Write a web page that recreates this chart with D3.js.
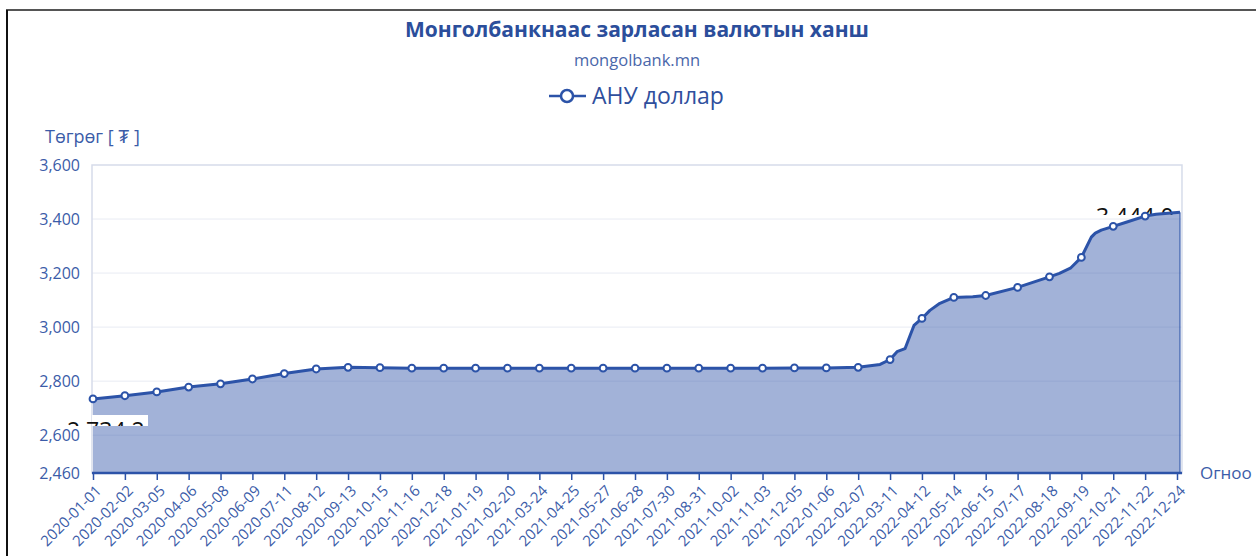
<!DOCTYPE html>
<html>
<head>
<meta charset="utf-8">
<script src="https://cdn.jsdelivr.net/npm/d3@7"></script>
<style>
  body { margin: 0; background: #fff; }
  svg { display: block; font-family: "Open Sans", sans-serif; }
</style>
</head>
<body>
<div id="chart"></div>
<script>
// Ханшийн өгөгдөл (зургаас уншсан)
const dates = [
  "2020-01-01", "2020-02-02", "2020-03-05", "2020-04-06", "2020-05-08", "2020-06-09",
  "2020-07-11", "2020-08-12", "2020-09-13", "2020-10-15", "2020-11-16", "2020-12-18",
  "2021-01-19", "2021-02-20", "2021-03-24", "2021-04-25", "2021-05-27", "2021-06-28",
  "2021-07-30", "2021-08-31", "2021-10-02", "2021-11-03", "2021-12-05", "2022-01-06",
  "2022-02-07", "2022-03-01", "2022-03-11", "2022-03-18", "2022-03-26", "2022-03-31",
  "2022-04-04", "2022-04-12", "2022-04-20", "2022-04-30", "2022-05-14", "2022-06-02",
  "2022-06-15", "2022-07-17", "2022-08-18", "2022-08-28", "2022-09-08", "2022-09-19",
  "2022-09-29", "2022-10-03", "2022-10-09", "2022-10-21", "2022-11-03", "2022-11-22",
  "2022-12-03", "2022-12-27"
];
const usdRate = [
  2734.2, 2746, 2760, 2778, 2790, 2808,
  2828, 2845, 2851, 2850, 2848, 2848,
  2848, 2848, 2848, 2848, 2848, 2848,
  2848, 2848, 2848, 2848, 2849, 2849,
  2851, 2862, 2880, 2909, 2920, 2968,
  3006, 3032, 3062, 3088, 3110, 3112,
  3117, 3147, 3186, 3199, 3218, 3258,
  3333, 3348, 3359, 3373, 3388, 3411,
  3418, 3425
];
const tickLabels = [
  "2020-01-01", "2020-02-02", "2020-03-05", "2020-04-06", "2020-05-08", "2020-06-09",
  "2020-07-11", "2020-08-12", "2020-09-13", "2020-10-15", "2020-11-16", "2020-12-18",
  "2021-01-19", "2021-02-20", "2021-03-24", "2021-04-25", "2021-05-27", "2021-06-28",
  "2021-07-30", "2021-08-31", "2021-10-02", "2021-11-03", "2021-12-05", "2022-01-06",
  "2022-02-07", "2022-03-11", "2022-04-12", "2022-05-14", "2022-06-15", "2022-07-17",
  "2022-08-18", "2022-09-19", "2022-10-21", "2022-11-22", "2022-12-24"
];
const yTicks = [2460, 2600, 2800, 3000, 3200, 3400, 3600];
const dataLabels = ["2,734.2", "3,444.0"];

const width = 1256, height = 556;
const blue = "#2c53a8";
const textBlue = "#3b5ca8";
const parse = d3.utcParse("%Y-%m-%d");

const data = dates.map((d, i) => ({ date: parse(d), value: usdRate[i], key: d }));
const tickDates = tickLabels.map(parse);

const svg = d3.select("#chart").append("svg")
  .attr("width", width)
  .attr("height", height);

// Гадна хүрээ
svg.append("line").attr("x1", 6).attr("x2", width).attr("y1", 10).attr("y2", 10)
  .attr("stroke", "#555").attr("stroke-width", 2);
svg.append("line").attr("x1", 7).attr("x2", 7).attr("y1", 10).attr("y2", height)
  .attr("stroke", "#111").attr("stroke-width", 2);

// Гарчиг
svg.append("text").attr("x", 637).attr("y", 37)
  .attr("text-anchor", "middle")
  .attr("font-size", 21).attr("font-weight", 700).attr("fill", "#2b4e9b")
  .text("Монголбанкнаас зарласан валютын ханш");
svg.append("text").attr("x", 637).attr("y", 66)
  .attr("text-anchor", "middle")
  .attr("font-size", 16.5).attr("fill", "#4a67aa")
  .text("mongolbank.mn");

// Тайлбар
const legend = svg.append("g");
legend.append("line").attr("x1", 549).attr("x2", 586).attr("y1", 96).attr("y2", 96)
  .attr("stroke", blue).attr("stroke-width", 2.5);
legend.append("circle").attr("cx", 567).attr("cy", 96).attr("r", 6)
  .attr("fill", "#fff").attr("stroke", blue).attr("stroke-width", 2.5);
legend.append("text").attr("x", 592).attr("y", 104)
  .attr("font-size", 23).attr("fill", "#2f4f9d")
  .text("АНУ доллар");

// Тэнхлэгүүд
const x = d3.scaleUtc()
  .domain([parse("2020-01-01"), parse("2022-12-24")])
  .range([93, 1177]);
const y = d3.scaleLinear()
  .domain([2460, 3600])
  .range([473, 165]);

const plotLeft = 92, plotRight = x(parse("2022-12-29"));

// Хэвтээ тор
svg.append("g").selectAll("line")
  .data(yTicks.slice(1, -1))
  .join("line")
  .attr("x1", plotLeft).attr("x2", plotRight)
  .attr("y1", d => y(d)).attr("y2", d => y(d))
  .attr("stroke", "#e8ebf3").attr("stroke-width", 1);

svg.append("rect")
  .attr("x", plotLeft).attr("y", y(3600))
  .attr("width", plotRight - plotLeft).attr("height", y(2460) - y(3600))
  .attr("fill", "none").attr("stroke", "#d6dcea").attr("stroke-width", 1.5);

// Сүүлийн утгын шошго (талбайн ард)
svg.append("clipPath").attr("id", "clipEnd")
  .append("rect").attr("x", 0).attr("y", 0).attr("width", plotRight).attr("height", 215);
svg.append("text")
  .attr("clip-path", "url(#clipEnd)")
  .attr("x", 1096).attr("y", 225)
  .attr("font-size", 23).attr("fill", "#111")
  .text(dataLabels[1]);

// Талбай ба шугам
const area = d3.area()
  .x(d => x(d.date))
  .y0(y(2460))
  .y1(d => y(d.value));
const line = d3.line()
  .x(d => x(d.date))
  .y(d => y(d.value));

svg.append("path").datum(data)
  .attr("d", area)
  .attr("fill", "#3d5fae").attr("fill-opacity", 0.48);
svg.append("path").datum(data)
  .attr("d", line)
  .attr("fill", "none").attr("stroke", blue).attr("stroke-width", 3)
  .attr("stroke-linejoin", "round");
// Баруун талын босоо ирмэг
const last = data[data.length - 1];
svg.append("line")
  .attr("x1", x(last.date)).attr("x2", x(last.date))
  .attr("y1", y(last.value)).attr("y2", y(2460))
  .attr("stroke", blue).attr("stroke-width", 1.5).attr("stroke-opacity", 0.7);

// Цэгүүд (тэнхлэгийн хуваарийн огноонд)
svg.append("g").selectAll("circle")
  .data(data.filter(d => tickLabels.includes(d.key)))
  .join("circle")
  .attr("cx", d => x(d.date)).attr("cy", d => y(d.value))
  .attr("r", 3.4)
  .attr("fill", "#fff").attr("stroke", blue).attr("stroke-width", 2);

// Эхний утгын шошго
svg.append("rect").attr("x", 92).attr("y", 415).attr("width", 56).attr("height", 11)
  .attr("fill", "#fff");
svg.append("clipPath").attr("id", "clipStart")
  .append("rect").attr("x", 0).attr("y", 400).attr("width", 160).attr("height", 26);
svg.append("text")
  .attr("clip-path", "url(#clipStart)")
  .attr("x", 67).attr("y", 439)
  .attr("font-size", 23).attr("fill", "#111")
  .text(dataLabels[0]);

// Y тэнхлэг
const yAxis = svg.append("g")
  .attr("transform", `translate(${plotLeft},0)`)
  .call(d3.axisLeft(y).tickValues(yTicks).tickFormat(d3.format(",")).tickSize(0).tickPadding(12));
yAxis.select(".domain").remove();
yAxis.selectAll("text")
  .attr("font-family", "Open Sans, sans-serif")
  .attr("font-size", 16).attr("fill", textBlue);

// X тэнхлэг
const xAxis = svg.append("g")
  .attr("transform", `translate(0,${y(2460)})`)
  .call(d3.axisBottom(x).tickValues(tickDates).tickFormat(d3.utcFormat("%Y-%m-%d")).tickSizeOuter(0).tickSize(7));
xAxis.select(".domain")
  .attr("d", `M${plotLeft},0H${plotRight}`)
  .attr("stroke", blue).attr("stroke-width", 2.5);
xAxis.selectAll(".tick line").attr("stroke", blue).attr("stroke-width", 1.5);
xAxis.selectAll("text")
  .attr("font-family", "Open Sans, sans-serif")
  .attr("font-size", 15).attr("fill", textBlue)
  .attr("text-anchor", "end")
  .attr("dy", "0.35em")
  .attr("transform", "translate(-2,8) rotate(-45)");

// Тэнхлэгийн нэрс
svg.append("text").attr("x", 45).attr("y", 143)
  .attr("font-size", 18).attr("fill", textBlue)
  .text("Төгрөг [ ₮ ]");
svg.append("text").attr("x", 1200).attr("y", 479)
  .attr("font-size", 17).attr("fill", textBlue)
  .text("Огноо");
</script>
</body>
</html>
